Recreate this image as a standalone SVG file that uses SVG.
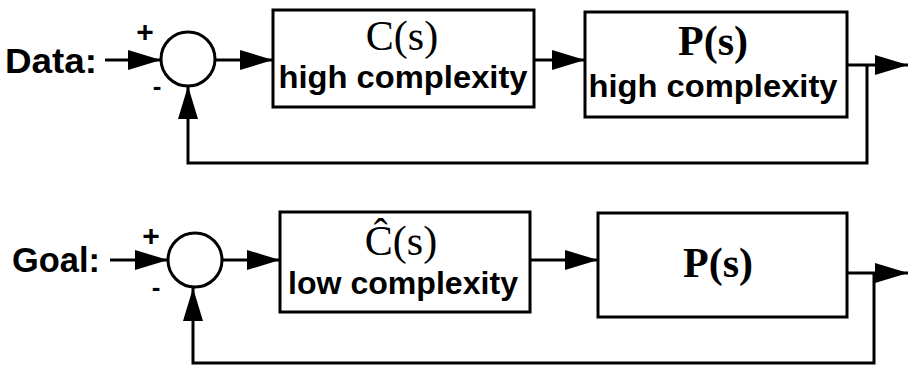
<svg xmlns="http://www.w3.org/2000/svg" width="909" height="368" viewBox="0 0 909 368">
<style>
.ln{fill:none;stroke:#000;stroke-width:3}
.bx{fill:#fff;stroke:#000;stroke-width:3}
.lbl{font-family:"Liberation Sans",Arial,sans-serif;font-weight:bold;fill:#000}
.sub{font-family:"Liberation Sans",Arial,sans-serif;font-weight:bold;font-size:31px;fill:#000;text-anchor:middle}
.tf{font-family:"Liberation Serif","Times New Roman",serif;font-size:42px;fill:#000;text-anchor:middle}
.sg{font-family:"Liberation Sans",Arial,sans-serif;font-weight:bold;fill:#000;text-anchor:middle}
</style>
<defs>
<marker id="ah" markerUnits="userSpaceOnUse" markerWidth="34" markerHeight="22" refX="33" refY="10" orient="auto">
<path d="M0,0 L33,10 L0,20 z" fill="#000"/>
</marker>
</defs>
<rect width="909" height="368" fill="#fff"/>
<g id="connectors">
<path class="ln" d="M105,60 L161,60" marker-end="url(#ah)"/>
<path class="ln" d="M215,60 L273,60" marker-end="url(#ah)"/>
<path class="ln" d="M534,60 L585,60" marker-end="url(#ah)"/>
<path class="ln" d="M847,65 L908,65" marker-end="url(#ah)"/>
<path class="ln" d="M867,65 L867,163 L188,163 L188,86" marker-end="url(#ah)"/>
<path class="ln" d="M110,260 L168,260" marker-end="url(#ah)"/>
<path class="ln" d="M222,260 L280,260" marker-end="url(#ah)"/>
<path class="ln" d="M530,260 L598,260" marker-end="url(#ah)"/>
<path class="ln" d="M847,273 L908,273" marker-end="url(#ah)"/>
<path class="ln" d="M874,273 L874,363 L193,363 L193,288" marker-end="url(#ah)"/>
</g>
<g id="label-data"><text class="lbl" x="5" y="73" font-size="35" textLength="92" lengthAdjust="spacingAndGlyphs">Data:</text></g>
<g id="label-goal"><text class="lbl" x="12" y="272" font-size="35" textLength="88" lengthAdjust="spacingAndGlyphs">Goal:</text></g>
<g id="sum1">
<circle cx="188" cy="59" r="27" class="bx"/>
<text class="sg" x="145" y="42" font-size="30">+</text>
<text class="sg" x="157" y="95" font-size="26">-</text>
</g>
<g id="C1">
<rect class="bx" x="273" y="10" width="261" height="97"/>
<text class="tf" x="402" y="50">C(s)</text>
<text class="sub" x="403" y="88" textLength="249" lengthAdjust="spacingAndGlyphs">high complexity</text>
</g>
<g id="P1">
<rect class="bx" x="585" y="12" width="262" height="105"/>
<text class="tf" x="713" y="55" font-weight="bold">P(s)</text>
<text class="sub" x="713" y="97" textLength="249" lengthAdjust="spacingAndGlyphs">high complexity</text>
</g>
<g id="sum2">
<circle cx="195" cy="260" r="27" class="bx"/>
<text class="sg" x="151" y="246" font-size="30">+</text>
<text class="sg" x="156" y="296" font-size="26">-</text>
</g>
<g id="C2">
<rect class="bx" x="280" y="212" width="250" height="100"/>
<text class="tf" x="401" y="255" font-size="40">Ĉ(s)</text>
<text class="sub" x="403" y="294" textLength="230" lengthAdjust="spacingAndGlyphs">low complexity</text>
</g>
<g id="P2">
<rect class="bx" x="598" y="213" width="249" height="104"/>
<text class="tf" x="718" y="277" font-weight="bold">P(s)</text>
</g>
</svg>
